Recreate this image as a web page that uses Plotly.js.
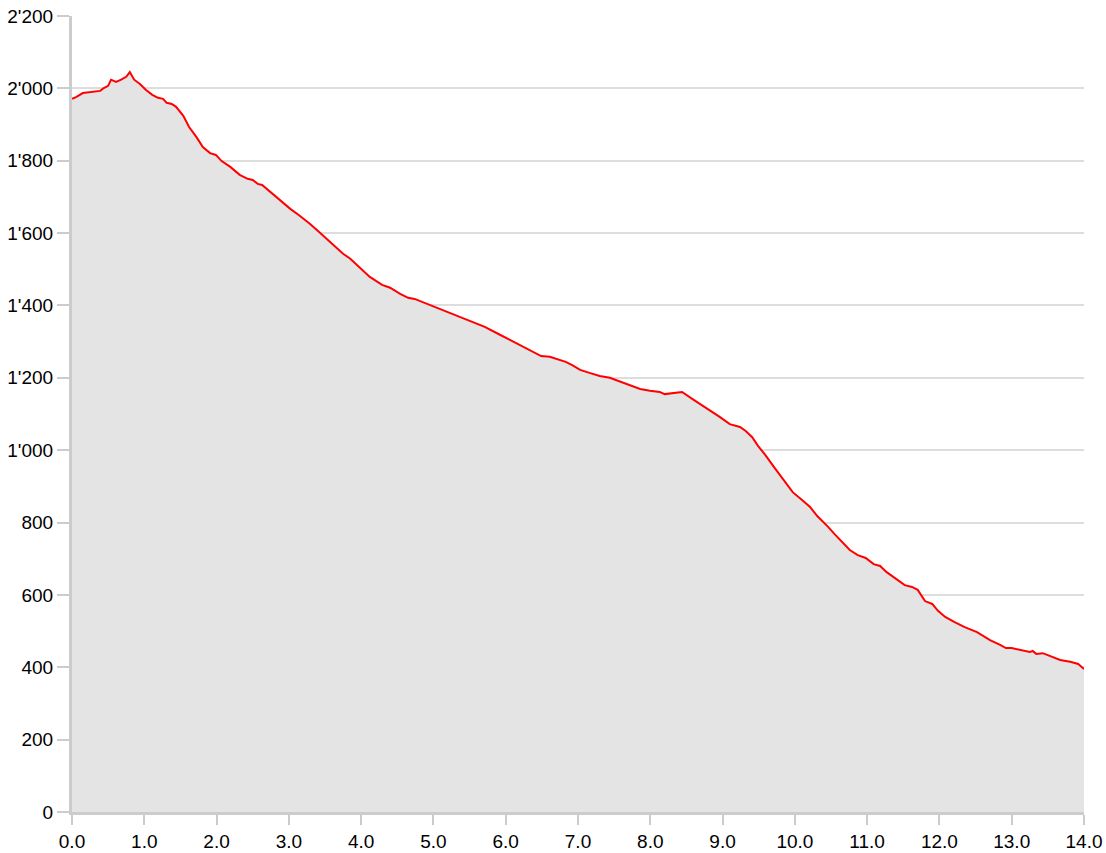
<!DOCTYPE html>
<html>
<head>
<meta charset="utf-8">
<script src="https://cdn.plot.ly/plotly-3.0.1.min.js"></script>
<style>html,body{margin:0;padding:0;background:#fff;}#chart{width:1106px;height:853px;}</style>
</head>
<body>
<div id="chart"></div>
<script>
const distanceKm = [0.00,0.055,0.15,0.32,0.39,0.44,0.50,0.54,0.61,0.68,0.75,0.80,0.86,0.94,1.02,1.11,1.19,1.26,1.31,1.38,1.44,1.54,1.62,1.72,1.81,1.91,1.99,2.07,2.19,2.32,2.43,2.50,2.57,2.63,2.74,2.88,3.02,3.15,3.29,3.43,3.57,3.75,3.85,3.98,4.12,4.29,4.40,4.54,4.65,4.74,4.88,5.09,5.30,5.51,5.71,5.92,6.13,6.34,6.49,6.61,6.75,6.83,6.92,7.03,7.17,7.30,7.44,7.58,7.72,7.86,7.995,8.13,8.20,8.34,8.44,8.58,8.69,8.825,8.96,9.10,9.24,9.32,9.41,9.49,9.59,9.72,9.86,9.97,10.10,10.21,10.31,10.37,10.46,10.55,10.65,10.76,10.87,10.98,11.09,11.18,11.27,11.38,11.52,11.62,11.70,11.80,11.90,11.98,12.08,12.21,12.35,12.52,12.70,12.84,12.92,13.00,13.11,13.25,13.29,13.34,13.43,13.53,13.67,13.81,13.92,14.00];
const elevationM = [1971,1976,1987,1990,1993,2001,2007,2024,2018,2024,2032,2045,2024,2012,1996,1982,1974,1971,1960,1957,1949,1924,1893,1866,1838,1821,1816,1799,1783,1761,1750,1747,1736,1733,1714,1692,1667,1648,1626,1601,1576,1543,1529,1504,1479,1457,1449,1432,1421,1418,1407,1391,1374,1357,1341,1319,1297,1277,1260,1258,1249,1244,1235,1222,1213,1205,1200,1189,1180,1169,1164,1161,1155,1158,1161,1142,1128,1111,1092,1072,1064,1053,1036,1012,987,951,915,884,862,843,818,807,788,768,746,724,710,702,685,680,663,647,627,622,614,583,575,556,539,525,511,497,475,462,453,453,448,442,445,437,439,431,420,415,409,395];

const trace = {
  x: distanceKm,
  y: elevationM,
  type: 'scatter',
  mode: 'lines',
  fill: 'tozeroy',
  fillcolor: '#e4e4e4',
  line: {color: '#ff0000', width: 2},
  hoverinfo: 'x+y'
};

const layout = {
  width: 1106,
  height: 853,
  margin: {l: 72, r: 22, t: 16, b: 41},
  paper_bgcolor: '#ffffff',
  plot_bgcolor: '#ffffff',
  separators: ".'",
  showlegend: false,
  font: {family: 'Liberation Sans, Arial, sans-serif', size: 19, color: '#000'},
  xaxis: {
    range: [0, 14],
    dtick: 1,
    tick0: 0,
    tickformat: '.1f',
    showgrid: false,
    zeroline: false,
    showline: true,
    linecolor: '#cccccc',
    linewidth: 3,
    ticks: 'outside',
    ticklen: 10,
    tickwidth: 2,
    tickcolor: '#cccccc',
    tickfont: {size: 19, color: '#000'}
  },
  yaxis: {
    range: [0, 2200],
    dtick: 200,
    tick0: 0,
    separatethousands: true,
    showgrid: true,
    gridcolor: '#dddddd',
    gridwidth: 2,
    zeroline: false,
    showline: true,
    linecolor: '#cccccc',
    linewidth: 3,
    ticks: 'outside',
    ticklen: 12,
    tickwidth: 2,
    tickcolor: '#cccccc',
    tickfont: {size: 19, color: '#000'}
  }
};

Plotly.newPlot('chart', [trace], layout, {displayModeBar: false, staticPlot: true});
</script>
</body>
</html>
